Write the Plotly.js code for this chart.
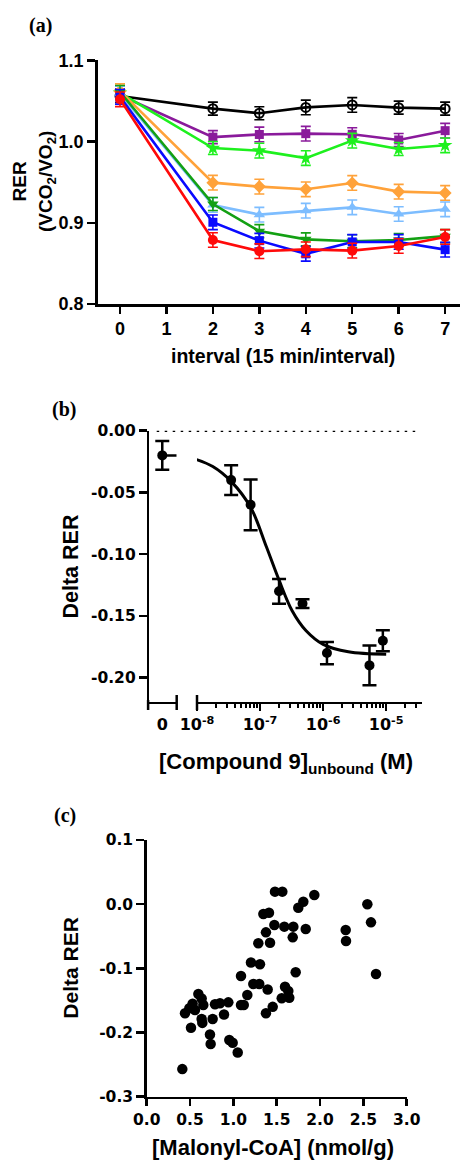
<!DOCTYPE html>
<html>
<head>
<meta charset="utf-8">
<script src="https://cdn.plot.ly/plotly-3.0.1.min.js"></script>
<style>html,body{margin:0;padding:0;background:#fff;}#plot{width:468px;height:1161px;}</style>
</head>
<body>
<div id="plot"></div>
<script>
// ---------- Panel (a) data ----------
const intervals = [0, 2, 3, 4, 5, 6, 7];
const intervalTicks = ['0', '1', '2', '3', '4', '5', '6', '7'];
const rerTicks = ['0.8', '0.9', '1.0', '1.1'];
const rerBlack     = [1.056, 1.0405, 1.0348, 1.0420, 1.0450, 1.0417, 1.0405];
const errBlack     = [0.008, 0.008, 0.008, 0.009, 0.009, 0.008, 0.008];
const rerPurple    = [1.057, 1.0054, 1.0087, 1.0097, 1.0089, 1.0019, 1.0134];
const errPurple    = [0.008, 0.008, 0.009, 0.009, 0.008, 0.008, 0.009];
const rerGreen     = [1.060, 0.9920, 0.9888, 0.9796, 1.0011, 0.9908, 0.9954];
const errGreen     = [0.008, 0.008, 0.009, 0.009, 0.009, 0.008, 0.009];
const rerOrange    = [1.062, 0.9494, 0.9445, 0.9412, 0.9490, 0.9383, 0.9367];
const errOrange    = [0.009, 0.009, 0.009, 0.009, 0.009, 0.009, 0.009];
const rerLightBlue = [1.059, 0.9219, 0.9100, 0.9149, 0.9190, 0.9108, 0.9166];
const errLightBlue = [0.009, 0.009, 0.009, 0.009, 0.009, 0.009, 0.009];
const rerDarkGreen = [1.061, 0.9231, 0.8897, 0.8796, 0.8772, 0.8788, 0.8835];
const errDarkGreen = [0.008, 0.008, 0.008, 0.008, 0.008, 0.008, 0.008];
const rerBlue      = [1.055, 0.9006, 0.8780, 0.8618, 0.8764, 0.8764, 0.8669];
const errBlue      = [0.009, 0.009, 0.009, 0.009, 0.009, 0.009, 0.009];
const rerRed       = [1.052, 0.8788, 0.8650, 0.8673, 0.8657, 0.8714, 0.8825];
const errRed       = [0.009, 0.009, 0.009, 0.009, 0.009, 0.009, 0.009];

// ---------- Panel (b) data ----------
const controlX = [0];
const controlY = [-0.020];
const controlErr = [0.0117];
const concM   = [3.48e-8, 7.08e-8, 2.0e-7, 4.71e-7, 1.15e-6, 5.43e-6, 8.85e-6];
const deltaB  = [-0.040, -0.060, -0.130, -0.140, -0.180, -0.190, -0.170];
const errB    = [0.012, 0.0205, 0.010, 0.0035, 0.009, 0.016, 0.0085];
const fitX = [9.33e-9, 1.78e-8, 3.47e-8, 7.08e-8, 1.26e-7, 2.0e-7, 3.24e-7, 5.37e-7, 1e-6, 2.51e-6, 1e-5];
const fitY = [-0.023, -0.029, -0.041, -0.062, -0.094, -0.121, -0.146, -0.162, -0.173, -0.179, -0.181];
const logTickVals = [1e-8, 1e-7, 1e-6, 1e-5];
const logTickText = ['<b>10<sup>-8</sup></b>', '<b>10<sup>-7</sup></b>', '<b>10<sup>-6</sup></b>', '<b>10<sup>-5</sup></b>'];
const deltaBTicks = ['-0.20', '-0.15', '-0.10', '-0.05', '0.00'];

// ---------- Panel (c) data ----------
const malonyl = [0.411, 0.442, 0.492, 0.530, 0.511, 0.596, 0.634, 0.653, 0.557, 0.634,
                 0.642, 0.761, 0.730, 0.738, 0.788, 0.846, 0.892, 0.942, 0.953, 0.992,
                 1.050, 1.088, 1.088, 1.120, 1.161, 1.203, 1.230, 1.299, 1.307, 1.288,
                 1.396, 1.376, 1.454, 1.346, 1.411, 1.376, 1.423, 1.473, 1.480, 1.565,
                 1.934, 1.807, 1.749, 1.588, 1.692, 1.835, 1.685, 2.296, 2.300, 2.546,
                 2.588, 2.646, 1.719, 1.596, 1.634, 1.558, 1.645];
const deltaC  = [-0.257, -0.170, -0.162, -0.155, -0.1925, -0.140, -0.147, -0.157, -0.165, -0.179,
                 -0.185, -0.179, -0.203, -0.218, -0.156, -0.1545, -0.172, -0.153, -0.2117, -0.216,
                 -0.231, -0.112, -0.157, -0.157, -0.1415, -0.091, -0.1245, -0.1245, -0.0937, -0.061,
                 -0.133, -0.170, -0.160, -0.0153, -0.0133, -0.0439, -0.060, -0.0325, 0.0195, 0.0195,
                 0.0143, 0.0039, -0.0055, -0.035, -0.035, -0.0387, -0.0517, -0.0403, -0.0574, -0.0002,
                 -0.0283, -0.1088, -0.106, -0.1286, -0.1353, -0.1467, -0.1457];
const malonylTicks = ['0.0', '0.5', '1.0', '1.5', '2.0', '2.5', '3.0'];
const deltaCTicks = ['-0.3', '-0.2', '-0.1', '0.0', '0.1'];

// ---------- helpers ----------
const W = 468, H = 1161;
const px = v => v / W;
const py = v => 1 - v / H;
const ARIAL = 'Arial, "Liberation Sans", sans-serif';
const DEJA = '"DejaVu Sans", Arial, sans-serif';
const bold = arr => arr.map(s => '<b>' + s + '</b>');

function seriesA(y, err, color, symbol, size, open) {
  return {
    type: 'scatter', mode: 'lines+markers', x: intervals, y: y,
    xaxis: 'x', yaxis: 'y',
    line: {color: color, width: 2.6},
    marker: open ? {symbol: 'circle-open', size: size, color: color, line: {color: color, width: 2}}
                 : {symbol: symbol, size: size, color: color, line: {width: 0}},
    error_y: {type: 'data', array: err, visible: true, color: color, thickness: 1.6, width: 5},
    cliponaxis: false, hoverinfo: 'skip'
  };
}

const data = [
  seriesA(rerBlack, errBlack, '#000000', 'circle-open', 9, true),
  seriesA(rerPurple, errPurple, '#8a1a9b', 'square', 9),
  seriesA(rerGreen, errGreen, '#1ef01e', 'star', 11),
  seriesA(rerOrange, errOrange, '#ffa23a', 'diamond', 10),
  seriesA(rerLightBlue, errLightBlue, '#7dbdff', 'triangle-up', 10),
  seriesA(rerDarkGreen, errDarkGreen, '#13a013', 'triangle-down', 10),
  seriesA(rerBlue, errBlue, '#0a0aff', 'square', 9),
  seriesA(rerRed, errRed, '#ff0a0a', 'circle', 10),
  {type: 'scatter', mode: 'markers', x: controlX, y: controlY, xaxis: 'x2', yaxis: 'y2',
   marker: {color: '#000', size: 10},
   error_y: {type: 'data', array: controlErr, color: '#000', thickness: 2.5, width: 7},
   error_x: {type: 'data', symmetric: false, array: [1.0], arrayminus: [0], color: '#000', thickness: 2.5, width: 0},
   cliponaxis: false, hoverinfo: 'skip'},
  {type: 'scatter', mode: 'lines', x: fitX, y: fitY, xaxis: 'x3', yaxis: 'y2',
   line: {color: '#000', width: 3, shape: 'spline', smoothing: 1}, hoverinfo: 'skip'},
  {type: 'scatter', mode: 'markers', x: concM, y: deltaB, xaxis: 'x3', yaxis: 'y2',
   marker: {color: '#000', size: 10},
   error_y: {type: 'data', array: errB, color: '#000', thickness: 2.5, width: 7},
   cliponaxis: false, hoverinfo: 'skip'},
  {type: 'scatter', mode: 'markers', x: malonyl, y: deltaC, xaxis: 'x4', yaxis: 'y4',
   marker: {color: '#000', size: 10.5}, cliponaxis: false, hoverinfo: 'skip'}
];

const axCommon = {showgrid: false, zeroline: false, showline: true, linecolor: '#000', linewidth: 2.5,
                  ticks: 'outside', tickcolor: '#000', tickwidth: 2.5, ticklen: 7, fixedrange: true};

const minorLog = [];
for (let e = -8; e <= -5; e++) { for (let d = 2; d <= 9; d++) { const v = d * Math.pow(10, e); if (Math.log10(v) < -4.44) minorLog.push(v); } }

const layout = {
  width: W, height: H, margin: {l: 0, r: 0, t: 0, b: 0},
  paper_bgcolor: '#fff', plot_bgcolor: 'rgba(0,0,0,0)', showlegend: false,
  xaxis: Object.assign({}, axCommon, {domain: [px(97.7), px(460)], range: [-0.48, 7.32], anchor: 'y',
    tickmode: 'array', tickvals: [0,1,2,3,4,5,6,7], ticktext: bold(intervalTicks),
    tickfont: {family: ARIAL, size: 18, color: '#000'}}),
  yaxis: Object.assign({}, axCommon, {domain: [py(304), py(60.3)], range: [0.8, 1.1], anchor: 'x', ticklen: 8,
    tickmode: 'array', tickvals: [0.8, 0.9, 1.0, 1.1], ticktext: bold(rerTicks),
    tickfont: {family: ARIAL, size: 18, color: '#000'}}),
  xaxis2: Object.assign({}, axCommon, {domain: [px(149.3), px(176.7)], range: [-0.9, 1.0], anchor: 'y2',
    tickmode: 'array', tickvals: [0], ticktext: ['<b>0</b>'], tickcolor: 'rgba(0,0,0,0)',
    tickfont: {family: DEJA, size: 16, color: '#000'}}),
  xaxis3: Object.assign({}, axCommon, {domain: [px(197), px(421.7)], type: 'log', range: [-8, -4.437], anchor: 'y2',
    tickmode: 'array', tickvals: logTickVals, ticktext: logTickText,
    minor: {tickmode: 'array', tickvals: minorLog, ticks: 'outside', ticklen: 4, tickwidth: 2, tickcolor: '#000'},
    tickfont: {family: DEJA, size: 16, color: '#000'}}),
  yaxis2: Object.assign({}, axCommon, {domain: [py(701.7), py(430.7)], range: [-0.2194, 0], anchor: 'x2', ticklen: 8,
    tickmode: 'array', tickvals: [-0.2, -0.15, -0.1, -0.05, 0], ticktext: bold(deltaBTicks),
    tickfont: {family: DEJA, size: 15.5, color: '#000'}}),
  xaxis4: Object.assign({}, axCommon, {domain: [px(146.7), px(406.7)], range: [0, 3], anchor: 'y4',
    tickmode: 'array', tickvals: [0, 0.5, 1, 1.5, 2, 2.5, 3], ticktext: bold(malonylTicks),
    tickfont: {family: DEJA, size: 15.5, color: '#000'}}),
  yaxis4: Object.assign({}, axCommon, {domain: [py(1096.7), py(840)], range: [-0.3, 0.1], anchor: 'x4', ticklen: 8,
    tickmode: 'array', tickvals: [-0.3, -0.2, -0.1, 0, 0.1], ticktext: bold(deltaCTicks),
    tickfont: {family: DEJA, size: 15.5, color: '#000'}}),
  shapes: [
    {type: 'line', xref: 'paper', yref: 'y2', x0: px(156.7), x1: px(420), y0: 0, y1: 0,
     line: {color: '#000', width: 2.5, dash: '2.5px,5.5px'}},
    {type: 'line', xref: 'paper', yref: 'paper', x0: px(176.7), x1: px(176.7), y0: py(695), y1: py(710), line: {color: '#000', width: 2.5}},
    {type: 'line', xref: 'paper', yref: 'paper', x0: px(197), x1: px(197), y0: py(695), y1: py(710), line: {color: '#000', width: 2.5}},
    {type: 'line', xref: 'paper', yref: 'paper', x0: px(148.1), x1: px(148.1), y0: py(700), y1: py(710), line: {color: '#000', width: 2.5}}
  ],
  annotations: []
};

function ann(text, x, y, size, family, angle) {
  layout.annotations.push({text: '<b>' + text + '</b>', x: px(x), y: py(y), xref: 'paper', yref: 'paper',
    xanchor: 'center', yanchor: 'middle', showarrow: false, textangle: angle || 0,
    font: {family: family, size: size, color: '#000'}});
}
const SERIF = '"Liberation Serif", "Times New Roman", serif';
ann('(a)', 40.5, 25, 20, SERIF);
ann('(b)', 64, 409, 20, SERIF);
ann('(c)', 65, 815.7, 20, SERIF);
ann('RER', 19.5, 182, 19, ARIAL, -90);
ann('(VCO<sub>2</sub>/VO<sub>2</sub>)', 47, 182, 19, ARIAL, -90);
ann('interval (15 min/interval)', 283, 356, 19.5, ARIAL);
ann('Delta RER', 70, 566.5, 21.5, ARIAL, -90);
ann('[Compound 9]<sub>unbound</sub> (M)', 286, 763, 22, ARIAL);
ann('Delta RER', 71, 967.7, 21, ARIAL, -90);
ann('[Malonyl-CoA] (nmol/g)', 273.3, 1147, 22, ARIAL);

Plotly.newPlot('plot', data, layout, {staticPlot: true, displayModeBar: false});
</script>
</body>
</html>
